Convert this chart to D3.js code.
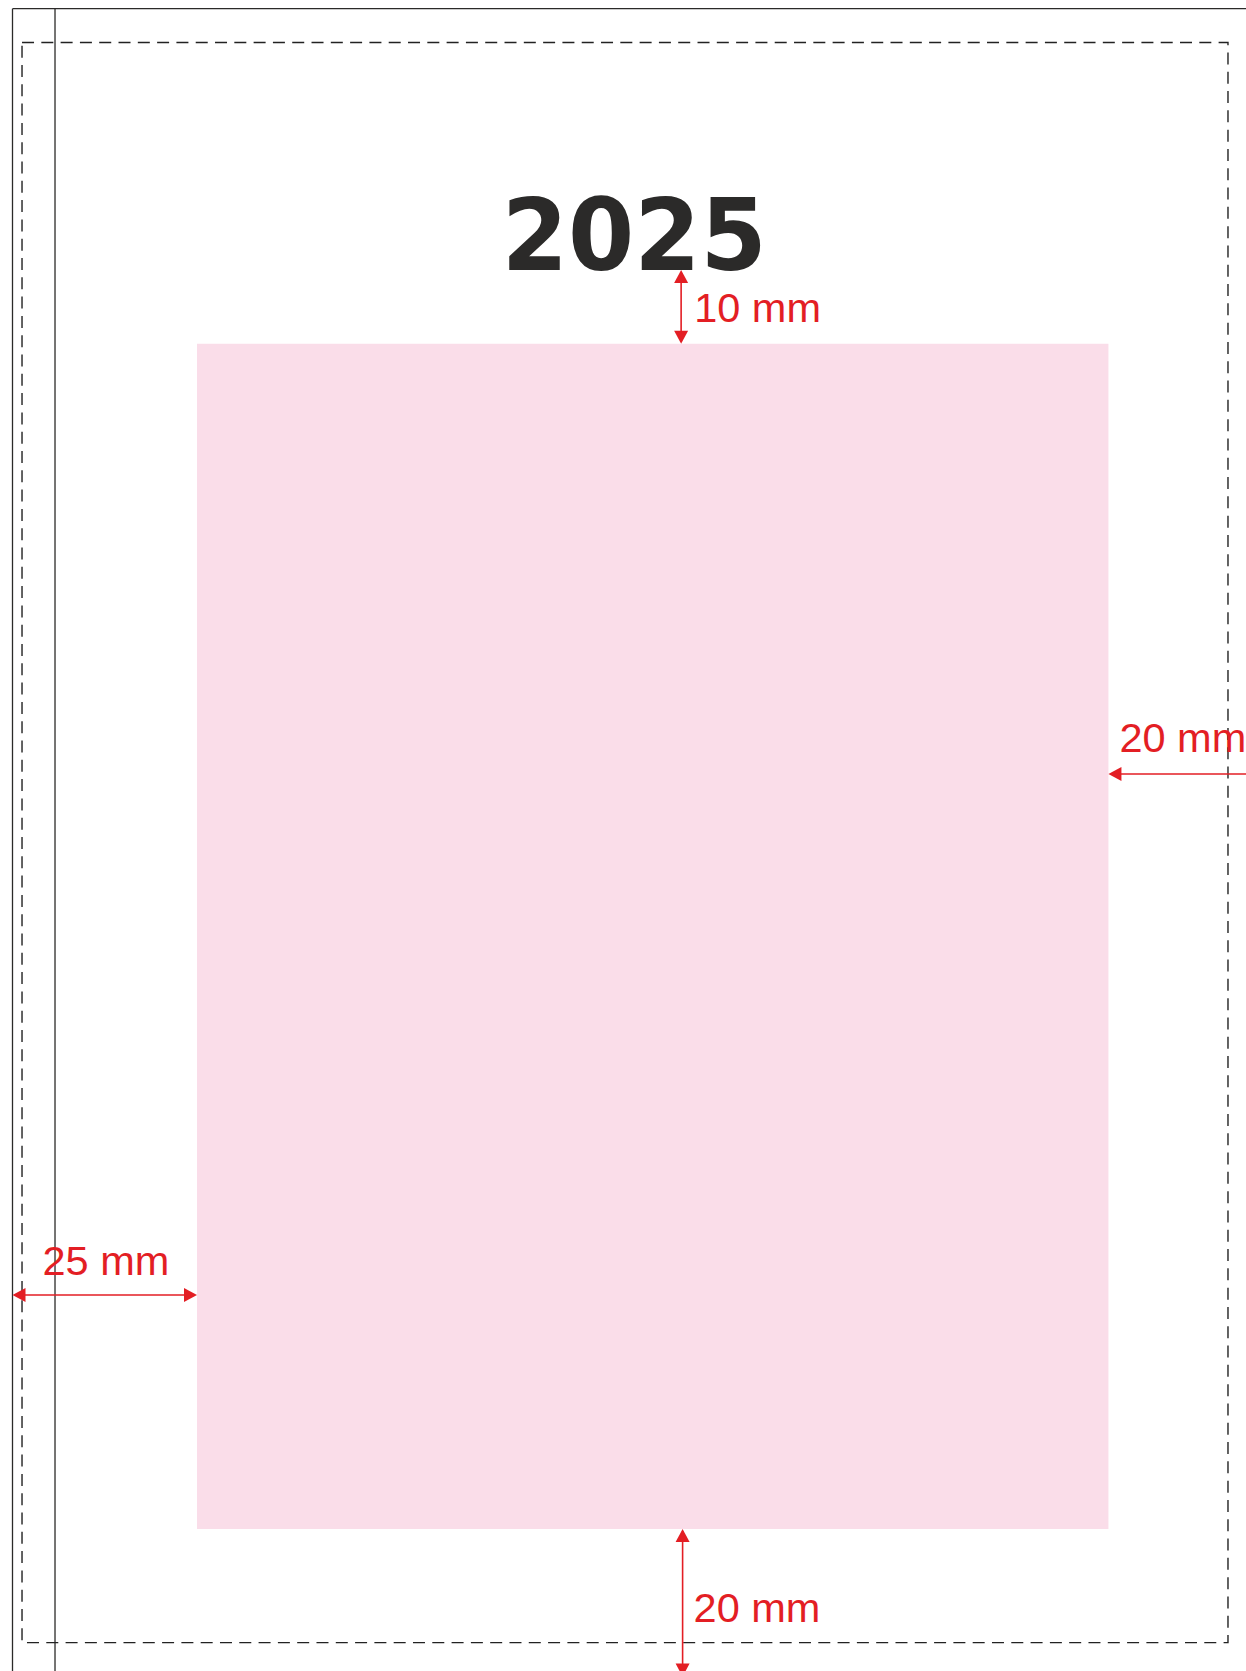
<!DOCTYPE html>
<html>
<head>
<meta charset="utf-8">
<script src="https://cdn.jsdelivr.net/npm/d3@7"></script>
<style>
  html, body { margin: 0; padding: 0; background: #fff; }
  svg { display: block; }
</style>
</head>
<body>
<div id="chart"></div>
<script>
// page layout, all in mm
const title = "2025";
const pageSize = [168.5, 226];          // width, height
const spineMm = 5.76;                    // binding line from left edge
const bleedBox = [1.29, 4.58, 164.7, 221.4]; // dashed box: x0, y0, x1, y1
const marginNames = ["top", "right", "bottom", "left"];
const marginMm = [10, 20, 20, 25];
const marginLabels = ["10 mm", "20 mm", "20 mm", "25 mm"];
const titleToBlockMm = 45.4;             // title baseline + 10 mm = block top

const width = 1246;
const height = 1671;
const red = "#e31e24";
const ink = "#2b2a29";

const svg = d3.select("#chart")
  .append("svg")
  .attr("width", width)
  .attr("height", height);

const pxPerMm = 7.38;
const x = d3.scaleLinear().domain([0, pageSize[0]]).range([12.5, 12.5 + pageSize[0] * pxPerMm]);
const y = d3.scaleLinear().domain([0, pageSize[1]]).range([8.7, 8.7 + pageSize[1] * pxPerMm]);

const m = {};
marginNames.forEach((n, i) => { m[n] = marginMm[i]; });

// pink text block
const block = {
  x0: m.left,
  x1: pageSize[0] - m.right,
  y0: titleToBlockMm,
  y1: pageSize[1] - m.bottom
};

svg.append("rect")
  .attr("x", x(block.x0))
  .attr("y", y(block.y0))
  .attr("width", x(block.x1) - x(block.x0))
  .attr("height", y(block.y1) - y(block.y0))
  .attr("fill", "#fadde9");

// page edges + spine
svg.append("line")
  .attr("x1", x(0)).attr("x2", width)
  .attr("y1", y(0)).attr("y2", y(0))
  .attr("stroke", ink).attr("stroke-width", 1.3);

[0, spineMm].forEach((v) => {
  svg.append("line")
    .attr("x1", x(v)).attr("x2", x(v))
    .attr("y1", y(0)).attr("y2", height)
    .attr("stroke", ink).attr("stroke-width", 1.3);
});

// dashed box
svg.append("rect")
  .attr("x", x(bleedBox[0]))
  .attr("y", y(bleedBox[1]))
  .attr("width", x(bleedBox[2]) - x(bleedBox[0]))
  .attr("height", y(bleedBox[3]) - y(bleedBox[1]))
  .attr("fill", "none")
  .attr("stroke", "#222")
  .attr("stroke-width", 1.4)
  .attr("stroke-dasharray", "12 7.3");

// title
svg.append("text")
  .attr("x", x(pageSize[0] / 2))
  .attr("y", y(block.y0 - m.top))
  .attr("text-anchor", "middle")
  .attr("font-family", "DejaVu Sans")
  .attr("font-weight", "bold")
  .attr("font-size", 99)
  .attr("textLength", 265)
  .attr("lengthAdjust", "spacingAndGlyphs")
  .attr("fill", ink)
  .text(title);

// dimension arrows
function arrowHead(px, py, dir) {
  const len = 13, half = 7;
  let pts;
  if (dir === "up") pts = [[px, py], [px - half, py + len], [px + half, py + len]];
  if (dir === "down") pts = [[px, py], [px - half, py - len], [px + half, py - len]];
  if (dir === "left") pts = [[px, py], [px + len, py - half], [px + len, py + half]];
  if (dir === "right") pts = [[px, py], [px - len, py - half], [px - len, py + half]];
  svg.append("polygon").attr("points", pts.map((p) => p.join(",")).join(" ")).attr("fill", red);
}

function dimLine(x1, y1, x2, y2) {
  svg.append("line")
    .attr("x1", x1).attr("y1", y1).attr("x2", x2).attr("y2", y2)
    .attr("stroke", red).attr("stroke-width", 1.6);
}

function dimLabel(tx, ty, label) {
  svg.append("text")
    .attr("x", tx).attr("y", ty)
    .attr("font-family", "Liberation Sans, Arial, sans-serif")
    .attr("font-size", 41.5)
    .attr("fill", red)
    .text(label);
}

// top: title baseline -> block top
const topX = x(90.6);
dimLine(topX, y(block.y0 - m.top) + 2, topX, y(block.y0) - 2);
arrowHead(topX, y(block.y0 - m.top), "up");
arrowHead(topX, y(block.y0), "down");
dimLabel(topX + 13, y(block.y0 - m.top) + 52, marginLabels[0]);

// right: block right -> page edge
const rightY = y(103.7);
dimLine(x(block.x1) + 2, rightY, x(pageSize[0]), rightY);
arrowHead(x(block.x1), rightY, "left");
dimLabel(x(block.x1) + 11, rightY - 22, marginLabels[1]);

// bottom: block bottom -> page edge
const bottomX = x(90.8);
dimLine(bottomX, y(block.y1) + 2, bottomX, y(pageSize[1]));
arrowHead(bottomX, y(block.y1), "up");
arrowHead(bottomX, y(pageSize[1]), "down");
dimLabel(bottomX + 11, y(block.y1) + 93, marginLabels[2]);

// left: page edge -> block left
const leftY = y(174.3);
dimLine(x(0) + 2, leftY, x(block.x0) - 2, leftY);
arrowHead(x(0), leftY, "left");
arrowHead(x(block.x0), leftY, "right");
dimLabel(x(0) + 30, leftY - 20, marginLabels[3]);
</script>
</body>
</html>
